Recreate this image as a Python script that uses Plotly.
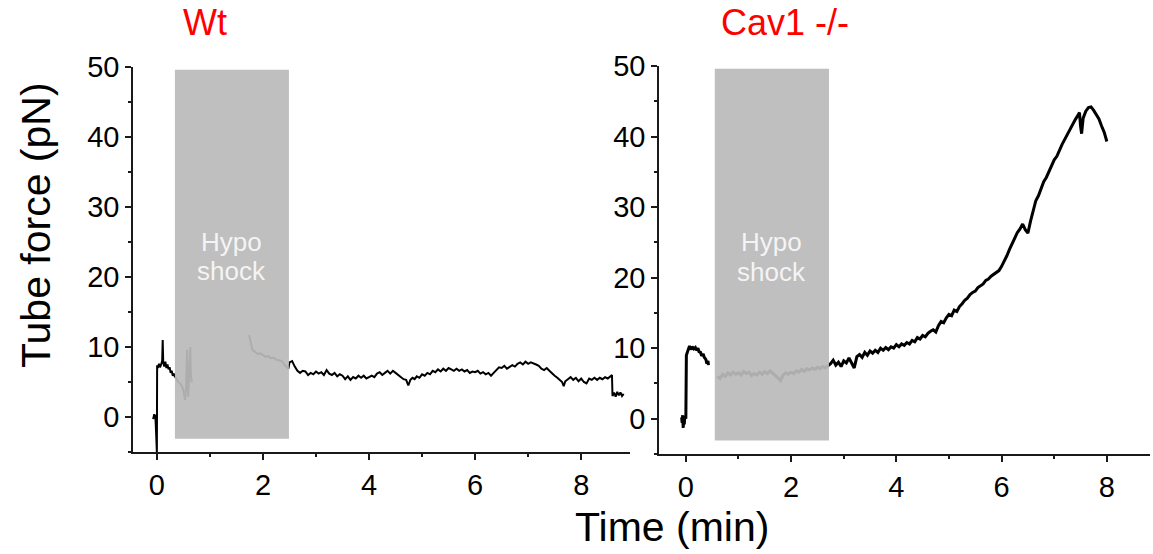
import plotly.graph_objects as go

# ---------------- data ----------------
wt_time = [-0.07, -0.05, -0.04, -0.03, -0.02, -0.01, 0.0, 0.005, 0.02, 0.04, 0.06, 0.08, 0.10, 0.11, 0.12,
           0.14, 0.16, 0.18, 0.20, 0.22, 0.24, 0.26, 0.28, 0.30, 0.32, 0.34,
           0.36, 0.40, 0.44, 0.48, 0.51, 0.53, 0.55, 0.57, 0.58, 0.59, 0.61, 0.63, 0.64, 0.66,
           None,
           1.74, 1.77, 1.80, 1.85, 1.90, 1.95, 2.00, 2.05, 2.10, 2.15, 2.20, 2.25, 2.30, 2.35, 2.40, 2.45, 2.48,
           2.50, 2.55, 2.60, 2.65, 2.70, 2.75, 2.80, 2.85, 2.90, 2.95, 3.00, 3.05, 3.10, 3.15, 3.20, 3.25,
           3.30, 3.35, 3.40, 3.45, 3.50, 3.55, 3.60, 3.65, 3.70, 3.75, 3.80, 3.85, 3.90, 3.95, 4.00, 4.05,
           4.10, 4.15, 4.20, 4.25, 4.30, 4.35, 4.40, 4.45, 4.50, 4.55, 4.60, 4.65, 4.70, 4.74, 4.78, 4.82,
           4.86, 4.90, 4.95, 5.00, 5.05, 5.10, 5.15, 5.20, 5.25, 5.30, 5.35, 5.40, 5.45, 5.50, 5.55, 5.60,
           5.65, 5.70, 5.75, 5.80, 5.85, 5.90, 5.95, 6.00, 6.05, 6.10, 6.15, 6.20, 6.25, 6.30, 6.35, 6.40,
           6.45, 6.50, 6.55, 6.60, 6.65, 6.70, 6.75, 6.80, 6.85, 6.90, 6.95, 7.00, 7.05, 7.10, 7.15, 7.20,
           7.25, 7.30, 7.35, 7.40, 7.45, 7.50, 7.55, 7.60, 7.64, 7.67, 7.70, 7.75, 7.80, 7.85, 7.90, 7.95,
           8.00, 8.05, 8.10, 8.15, 8.20, 8.25, 8.30, 8.35, 8.40, 8.45, 8.50, 8.55, 8.58, 8.59, 8.62, 8.65,
           8.68, 8.71, 8.74, 8.77, 8.80]
wt_force = [-0.3, 0.4, -0.2, 0.3, -1.2, -2.8, -5.0, 7.4, 7.0, 7.6, 7.1, 7.5, 8.0, 11.0, 7.8,
            7.2, 7.9, 7.0, 7.5, 6.8, 7.1, 6.3, 6.6, 5.9, 6.2, 5.8,
            5.6, 5.0, 4.8, 4.3, 3.5, 2.4, 4.0, 9.6, 5.0, 2.9, 6.0, 10.0, 6.0, 4.9,
            None,
            11.7, 10.4, 9.6, 9.3, 9.0, 9.1, 8.8, 8.6, 8.7, 8.4, 8.5, 8.2, 8.1, 8.0, 7.5, 7.2, 6.9,
            7.8, 8.0, 7.2, 6.6, 6.3, 6.6, 6.5, 6.0, 6.3, 6.1, 6.5, 6.2, 6.4, 6.0, 6.7, 6.2,
            6.0, 6.3, 5.8, 6.1, 5.9, 5.4, 5.8, 5.3, 5.7, 5.5, 5.9, 5.6, 5.9, 5.5, 5.7, 5.9,
            5.7, 6.2, 6.4, 6.0, 6.3, 6.6, 6.2, 6.6, 6.3, 6.0, 5.8, 5.4, 5.3, 4.5, 5.3, 5.6,
            5.4, 5.8, 5.6, 6.1, 5.9, 6.3, 6.1, 6.6, 6.4, 6.8, 6.5, 6.9, 6.6, 7.0, 6.8, 6.6,
            6.9, 6.6, 6.8, 6.5, 6.7, 6.3, 6.5, 6.4, 6.6, 6.2, 6.4, 6.1, 6.3, 5.9, 6.3, 6.7,
            7.1, 7.0, 7.3, 6.9, 7.2, 7.4, 7.2, 7.6, 7.8, 7.5, 7.9, 7.6, 7.8, 7.7, 7.5, 7.3,
            6.9, 6.7, 7.0, 6.6, 6.2, 5.9, 5.6, 5.3, 5.0, 4.4, 5.1, 5.4, 5.7, 5.3, 5.6, 5.1,
            5.5, 5.0, 4.8, 5.5, 5.3, 5.6, 5.3, 5.6, 5.4, 5.7, 5.5, 5.8, 6.0, 3.0, 3.5, 2.9,
            3.6, 3.1, 3.5, 3.0, 3.3]

cav_time = [-0.08, -0.07, -0.06, -0.05, -0.04, -0.03, -0.02, 0.0, 0.01, 0.03, 0.05, 0.07, 0.10, 0.12,
            0.15, 0.18, 0.20, 0.23, 0.25, 0.28, 0.30, 0.33, 0.35, 0.38, 0.40, 0.42, 0.43,
            None,
            0.60, 0.65, 0.70, 0.75, 0.80, 0.85, 0.90, 0.95, 1.00, 1.05, 1.10, 1.15, 1.20, 1.25, 1.30,
            1.35, 1.40, 1.45, 1.50, 1.55, 1.60, 1.65, 1.70, 1.75, 1.80, 1.85, 1.90, 1.95, 2.00, 2.05,
            2.10, 2.15, 2.20, 2.25, 2.30, 2.35, 2.40, 2.45, 2.50, 2.55, 2.60, 2.65, 2.70,
            2.75, 2.80, 2.85, 2.90, 2.95, 3.00, 3.05, 3.10, 3.15, 3.20, 3.25, 3.30, 3.35, 3.40, 3.45,
            3.50, 3.55, 3.60, 3.65, 3.70, 3.75, 3.80, 3.85, 3.90, 3.95, 4.00, 4.05, 4.10, 4.15, 4.20,
            4.25, 4.30, 4.35, 4.40, 4.45, 4.50, 4.55, 4.60, 4.65, 4.70, 4.75, 4.80, 4.85, 4.90, 4.95,
            5.00, 5.05, 5.10, 5.15, 5.20, 5.25, 5.30, 5.35, 5.40, 5.45, 5.50, 5.55, 5.60, 5.65, 5.70,
            5.75, 5.80, 5.85, 5.90, 5.95, 6.00, 6.05, 6.10, 6.15, 6.20, 6.25, 6.30, 6.35, 6.40, 6.45,
            6.50, 6.55, 6.60, 6.65, 6.70, 6.75, 6.80, 6.85, 6.90, 6.95, 7.00, 7.05, 7.10, 7.15, 7.20,
            7.25, 7.30, 7.35, 7.40, 7.45, 7.48, 7.50, 7.52, 7.55, 7.60, 7.65, 7.70, 7.75, 7.80, 7.85,
            7.90, 7.95, 8.00]
cav_force = [0.2, -0.6, 0.5, -1.3, 0.3, -0.8, 0.4, 0.0, 9.0, 9.6, 9.9, 10.3, 9.8, 10.2,
             9.9, 10.1, 9.7, 10.0, 9.5, 9.4, 8.9, 9.2, 8.7, 8.4, 7.8, 8.2, 7.6,
             None,
             6.0, 5.7, 6.3, 6.0, 6.5, 6.2, 6.6, 6.3, 6.5, 6.2, 6.7, 6.4, 6.6, 6.1, 6.4,
             6.2, 6.6, 6.3, 6.7, 6.4, 6.8, 6.5, 6.2, 5.8, 5.4, 6.2, 6.5, 6.3, 6.6, 6.4,
             6.8, 6.6, 7.0, 6.7, 7.1, 6.9, 7.2, 7.0, 7.3, 7.1, 7.4, 7.2, 7.5,
             7.8, 8.3, 7.6, 8.0, 7.4, 8.2, 7.9, 8.6, 7.9, 7.2, 8.8, 9.1, 8.7, 9.4, 9.0,
             9.6, 9.3, 9.7, 9.4, 10.0, 9.7, 10.1, 9.8, 10.2, 10.0, 10.5, 10.2, 10.6, 10.4, 10.8,
             10.6, 11.1, 10.9, 11.5, 11.3, 11.8, 11.6, 12.1, 12.4, 12.6, 12.3, 13.2, 13.8, 13.6, 14.3,
             14.8, 14.6, 15.4, 15.2, 15.9, 16.3, 16.8, 17.1, 17.6, 17.9, 18.1, 18.6, 18.8, 19.1, 19.6,
             19.8, 20.2, 20.5, 20.7, 21.0, 21.6, 22.3, 23.1, 24.0, 24.8, 25.6, 26.4, 26.9, 27.6, 26.8,
             26.3, 28.0, 29.6, 30.9, 31.6, 32.5, 33.6, 34.2, 35.1, 35.8, 36.7, 37.2, 38.1, 38.9, 39.6,
             40.3, 41.0, 41.9, 42.4, 43.0, 43.4, 41.5, 40.4, 42.6, 43.6, 44.1, 44.2, 43.7, 43.1, 42.5,
             41.5, 40.6, 39.3]

panel_titles = ["Wt", "Cav1 -/-"]
shock_start = [0.34, 0.55]
shock_end = [2.49, 2.72]
shock_low, shock_high = -3.1, 49.6
y_ticks = [0, 10, 20, 30, 40, 50]
x_ticks = [0, 2, 4, 6, 8]

# ---------------- figure ----------------
W, H = 1153, 554
FONT = "Liberation Sans, Arial, sans-serif"


def px_x(p):
    return p / W


def px_y(p):
    return 1 - p / H


fig = go.Figure()
fig.add_trace(go.Scatter(x=wt_time, y=wt_force, mode="lines", xaxis="x", yaxis="y",
                         line=dict(color="black", width=2.0), connectgaps=False, showlegend=False))
fig.add_trace(go.Scatter(x=cav_time, y=cav_force, mode="lines", xaxis="x2", yaxis="y2",
                         line=dict(color="black", width=3.0), connectgaps=False, showlegend=False))

axis_common = dict(showline=True, linecolor="#1a1a1a", linewidth=1.5, ticks="outside",
                   ticklen=6, tickwidth=1.5, tickcolor="#1a1a1a", showgrid=False, zeroline=False,
                   automargin=False, tickfont=dict(family=FONT, size=29, color="black"))


def minor(dt):
    return dict(ticks="outside", ticklen=3, tickwidth=1.5, tickcolor="#1a1a1a", dtick=dt, tick0=0)


fig.update_layout(
    template="none",
    width=W, height=H, margin=dict(l=0, r=0, t=0, b=0, pad=0), autosize=False,
    paper_bgcolor="white", plot_bgcolor="white", showlegend=False,
    xaxis=dict(domain=[px_x(133), px_x(630)], range=[-0.45, 8.92], anchor="y",
               tickvals=x_ticks, minor=minor(1), **axis_common),
    yaxis=dict(domain=[px_y(452), px_y(67)], range=[-5, 50], anchor="x",
               tickvals=y_ticks, minor=minor(5), **axis_common),
    xaxis2=dict(domain=[px_x(659), px_x(1150)], range=[-0.51, 8.82], anchor="y2",
                tickvals=x_ticks, minor=minor(1), **axis_common),
    yaxis2=dict(domain=[px_y(454), px_y(66)], range=[-5, 50], anchor="x2",
                tickvals=y_ticks, minor=minor(5), **axis_common),
)

for i, (xr, yr) in enumerate([("x", "y"), ("x2", "y2")]):
    fig.add_shape(type="rect", xref=xr, yref=yr, x0=shock_start[i], x1=shock_end[i],
                  y0=shock_low, y1=shock_high, fillcolor="rgb(186,186,186)", opacity=0.93,
                  line=dict(width=0), layer="above")
    xc = (shock_start[i] + shock_end[i]) / 2
    fig.add_annotation(x=xc, y=25.0, xref=xr, yref=yr, text="Hypo", showarrow=False,
                       xanchor="center", yanchor="middle",
                       font=dict(family=FONT, size=26, color="#f4f4f4"))
    fig.add_annotation(x=xc, y=20.8, xref=xr, yref=yr, text="shock", showarrow=False,
                       xanchor="center", yanchor="middle",
                       font=dict(family=FONT, size=26, color="#f4f4f4"))

# panel titles
for name, cx in zip(panel_titles, [205, 785]):
    fig.add_annotation(x=px_x(cx), y=px_y(22), xref="paper", yref="paper", text=name,
                       showarrow=False, xanchor="center", yanchor="middle",
                       font=dict(family=FONT, size=36, color="#ff0000"))

# axis titles
fig.add_annotation(x=px_x(36), y=px_y(225), xref="paper", yref="paper", text="Tube force (pN)",
                   textangle=-90, showarrow=False, xanchor="center", yanchor="middle",
                   font=dict(family=FONT, size=41, color="black"))
fig.add_annotation(x=px_x(672), y=px_y(527), xref="paper", yref="paper", text="Time (min)",
                   showarrow=False, xanchor="center", yanchor="middle",
                   font=dict(family=FONT, size=41, color="black"))

fig.write_html("out.html", config={"displayModeBar": False},
               post_script="document.body.style.margin='0';document.body.style.overflow='hidden';")
